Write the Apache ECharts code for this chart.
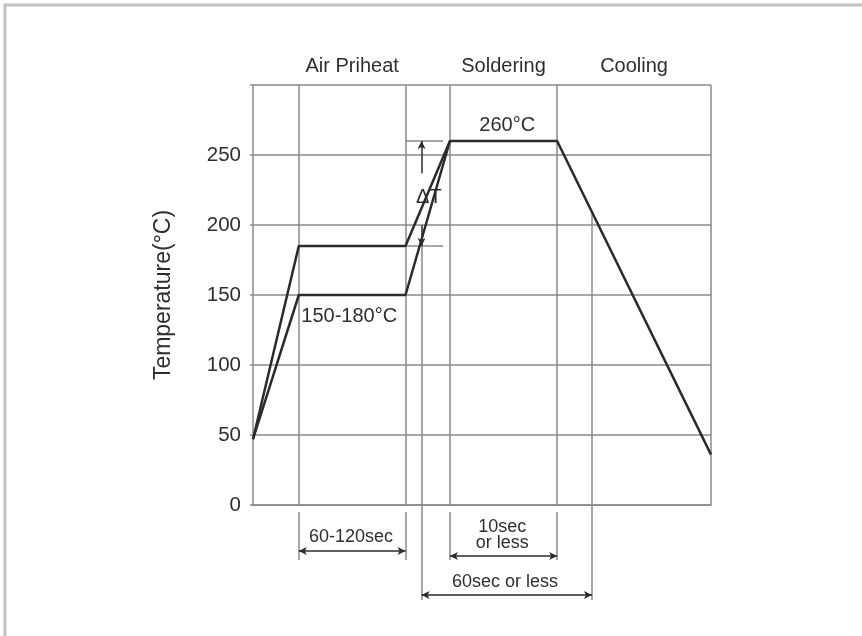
<!DOCTYPE html>
<html><head><meta charset="utf-8">
<script src="https://cdn.jsdelivr.net/npm/echarts@6/dist/echarts.min.js"></script>
<style>html,body{margin:0;padding:0;background:#fff}#c{width:862px;height:636px}</style>
</head><body><div id="c"></div>
<script>
// ---- data ----
const yTickLabels = ['0','50','100','150','200','250',''];
const phaseNames = ['Air Priheat','Soldering','Cooling'];
const phaseBounds = [[10,33.3],[43,66.4],[66.4,100]];
const gridXs = [10,33.3,43,66.4,100];
const upperProfile = [[0,47],[10,185],[33.3,185],[43,260],[66.4,260],[100,36]];
const lowerProfile = [[0,47],[10,150],[33.3,150],[43,260]];
const plotLabels = [['260°C',55.5,271],['150-180°C',21,135],['ΔT',38.4,220]];
// ΔT marker: ticks [x0,x1,y], arrows [x,yFrom,yTo]
const deltaTicks = [[33.3,41.5,260],[33.3,41.5,185]];
const deltaArrows = [[36.8,237,260],[36.8,200,185]];
// vertical guides in the plot [x, yFrom, yTo]
const plotGuides = [[36.8,185,0],[74,210,0]];
// annotation strip below the plot (rows measured downward)
const extLines = [[10,7,55],[33.3,7,55],[43,7,55],[66.4,7,55],[36.8,0,95],[74,0,95]];
const dimArrows = [[10,33.3,46],[43,66.4,51],[36.8,74,90]];
const dimLabels = [['60-120sec',21.4,32],['10sec\nor less',54.4,30],['60sec or less',55,77]];

const GRID = '#8a8a8a', INK = '#2b2b2b', TXT = '#2e2e2e';
const FONT = 'Liberation Sans, Arial, sans-serif';

const chart = echarts.init(document.getElementById('c'), null, {renderer:'canvas'});
const plain = {lineStyle:{color:GRID,width:1.5,type:'solid'}};
const inkLine = {lineStyle:{color:INK,width:1.5,type:'solid'}};
const hidden = {color:'rgba(0,0,0,0)',borderWidth:0};
const txt = (size, extra) => Object.assign({show:true,position:'inside',formatter:'{b}',fontSize:size,color:TXT,
  fontFamily:FONT,textBorderWidth:0,textShadowBlur:0,opacity:1}, extra||{});

const option = {
  animation:false,
  textStyle:{fontFamily:FONT},
  graphic:[{type:'rect',shape:{x:5,y:5,width:1200,height:1200},style:{fill:'none',stroke:'#c2c2c2',lineWidth:3},silent:true}],
  grid:[
    {left:253,top:85,width:458,height:420},
    {left:253,top:505,width:458,height:100}
  ],
  xAxis:[
    {gridIndex:0,type:'value',min:0,max:100,axisLine:{show:true,lineStyle:{color:GRID,width:1.5}},axisTick:{show:false},axisLabel:{show:false},splitLine:{show:false}},
    {gridIndex:1,type:'value',min:0,max:100,show:false}
  ],
  yAxis:[
    {gridIndex:0,type:'value',min:0,max:300,interval:50,
     axisLine:{show:true,lineStyle:{color:GRID,width:1.5}},
     axisTick:{show:true,length:3,lineStyle:{color:GRID,width:1.5}},
     axisLabel:{fontSize:20.5,color:TXT,margin:12,fontFamily:FONT,formatter:(v)=>yTickLabels[Math.round(v/50)]},
     splitLine:{show:true,lineStyle:{color:GRID,width:1.5}},
     name:'Temperature(°C)',nameLocation:'middle',nameGap:78,
     nameTextStyle:{fontSize:23,color:TXT,fontFamily:FONT}},
    {gridIndex:1,type:'value',min:0,max:100,inverse:true,show:false}
  ],
  series:[
    {type:'line',xAxisIndex:0,yAxisIndex:0,data:upperProfile,symbol:'none',
     lineStyle:{color:INK,width:2.5},z:5,
     markArea:{silent:true,itemStyle:{color:'rgba(0,0,0,0)'},
       label:{show:true,position:'top',distance:9,fontSize:20,color:TXT,fontFamily:FONT},
       data:phaseBounds.map((b,i)=>[{xAxis:b[0],name:phaseNames[i]},{xAxis:b[1]}])},
     markLine:{silent:true,symbol:'none',label:{show:false},
       data:[
         ...gridXs.map(x=>({xAxis:x,...plain})),
         ...plotGuides.map(g=>[{coord:[g[0],g[1]],...plain},{coord:[g[0],g[2]]}]),
         ...deltaTicks.map(t=>[{coord:[t[0],t[2]],...plain},{coord:[t[1],t[2]]}])
       ]}},
    {type:'line',xAxisIndex:0,yAxisIndex:0,data:lowerProfile,symbol:'none',
     lineStyle:{color:INK,width:2.5},z:5,
     markLine:{silent:true,symbol:['none','arrow'],symbolSize:[6,8],label:{show:false},
       data:deltaArrows.map(a=>[{coord:[a[0],a[1]],...inkLine},{coord:[a[0],a[2]]}])}},
    {type:'scatter',xAxisIndex:0,yAxisIndex:0,symbolSize:2,itemStyle:hidden,silent:true,z:6,
     data:plotLabels.map(l=>({name:l[0],value:[l[1],l[2]]})),
     label:txt(20)},
    {type:'line',xAxisIndex:1,yAxisIndex:1,data:[[0,0]],symbol:'none',lineStyle:{opacity:0},silent:true,
     markLine:{silent:true,symbol:'none',label:{show:false},
       data:extLines.map(e=>[{coord:[e[0],e[1]],...plain},{coord:[e[0],e[2]]}])}},
    {type:'line',xAxisIndex:1,yAxisIndex:1,data:[[0,0]],symbol:'none',lineStyle:{opacity:0},silent:true,
     markLine:{silent:true,symbol:['arrow','arrow'],symbolSize:[6,8],label:{show:false},
       data:dimArrows.map(d=>[{coord:[d[0],d[2]],...inkLine},{coord:[d[1],d[2]]}])}},
    {type:'scatter',xAxisIndex:1,yAxisIndex:1,symbolSize:2,itemStyle:hidden,silent:true,
     data:dimLabels.map(l=>({name:l[0],value:[l[1],l[2]]})),
     label:txt(18,{lineHeight:16})}
  ]
};
chart.setOption(option);
</script></body></html>
